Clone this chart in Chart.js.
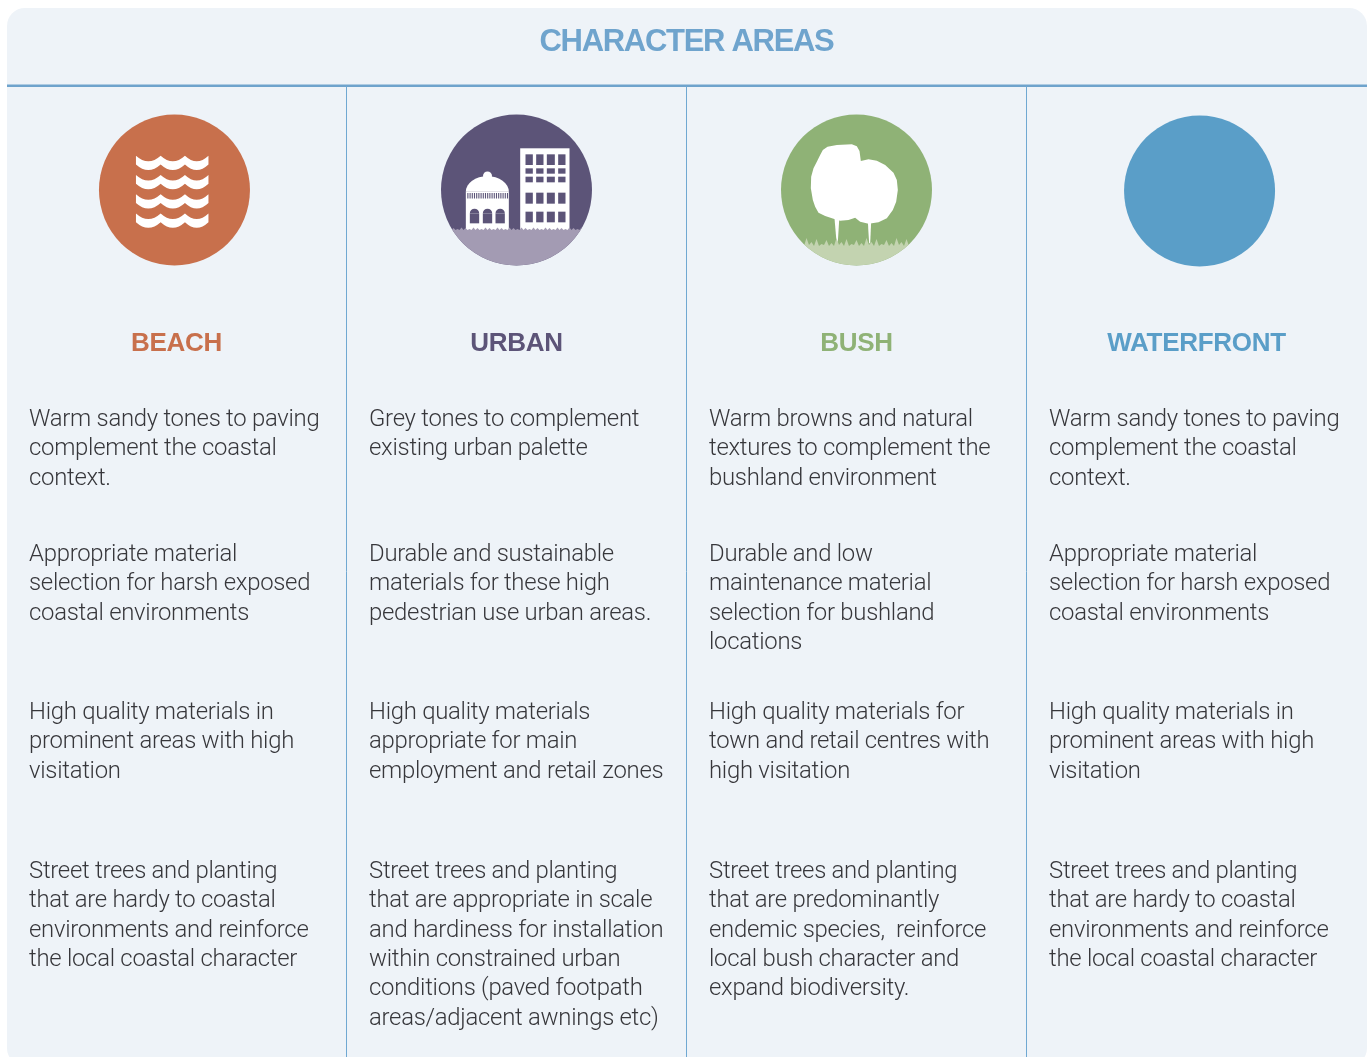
<!DOCTYPE html>
<html><head><meta charset="utf-8">
<style>html,body{margin:0;padding:0;background:#fff}canvas{display:block}</style>
<script src="https://cdn.jsdelivr.net/npm/chart.js@4"></script>
</head><body><canvas id="c" width="1370" height="1057"></canvas>
<script>
const title = "CHARACTER AREAS";
const categories = ["BEACH","URBAN","BUSH","WATERFRONT"];
const categoryColors = ["#c8704c","#5c5478","#8fb276","#5a9ec8"];
const iconX = [0.494,1.5,2.5,3.509];
const iconY = [190,190,190,191];
const beachText = [
 ["Warm sandy tones to paving","complement the coastal","context."],
 ["Appropriate material","selection for harsh exposed","coastal environments"],
 ["High quality materials in","prominent areas with high","visitation"],
 ["Street trees and planting","that are hardy to coastal","environments and reinforce","the local coastal character"]];
const urbanText = [
 ["Grey tones to complement","existing urban palette"],
 ["Durable and sustainable","materials for these high","pedestrian use urban areas."],
 ["High quality materials","appropriate for main","employment and retail zones"],
 ["Street trees and planting","that are appropriate in scale","and hardiness for installation","within constrained urban","conditions (paved footpath","areas/adjacent awnings etc)"]];
const bushText = [
 ["Warm browns and natural","textures to complement the","bushland environment"],
 ["Durable and low","maintenance material","selection for bushland","locations"],
 ["High quality materials for","town and retail centres with","high visitation"],
 ["Street trees and planting","that are predominantly","endemic species,  reinforce","local bush character and","expand biodiversity."]];
const waterfrontText = [
 ["Warm sandy tones to paving","complement the coastal","context."],
 ["Appropriate material","selection for harsh exposed","coastal environments"],
 ["High quality materials in","prominent areas with high","visitation"],
 ["Street trees and planting","that are hardy to coastal","environments and reinforce","the local coastal character"]];
const columnText = [beachText,urbanText,bushText,waterfrontText];
const rowBaselines = [426,561,719,878];

const COL=340, LEFT=6.5, TOP=86, LH=29.3;
const BODY='300 23.9px Roboto, "Liberation Sans", sans-serif';
const HEAD='bold 26px "Liberation Sans", sans-serif';

function poly(ctx,cx,cy,pts,fill){
  ctx.beginPath();
  pts.forEach((p,i)=>{const x=cx+p[0]/3,y=cy+p[1]/3; i?ctx.lineTo(x,y):ctx.moveTo(x,y);});
  ctx.closePath(); ctx.fillStyle=fill; ctx.fill();
}
function drawWaves(ctx,cx,cy){
  ctx.fillStyle="#fff";
  const xs=[-38.5,-13.8,10.5,34];
  for(let r=0;r<4;r++){
    const top=cy-34.3+r*19.3, th=8.7;
    ctx.beginPath(); ctx.moveTo(cx+xs[0],top);
    for(let i=0;i<3;i++) ctx.quadraticCurveTo(cx+(xs[i]+xs[i+1])/2,top+11,cx+xs[i+1],top);
    ctx.lineTo(cx+xs[3],top+th);
    for(let i=3;i>0;i--) ctx.quadraticCurveTo(cx+(xs[i]+xs[i-1])/2,top+th+11,cx+xs[i-1],top+th);
    ctx.closePath(); ctx.fill();
  }
}
function ground(ctx,cx,cy,r,yTop,fill,spikes){
  ctx.save(); ctx.beginPath(); ctx.arc(cx,cy,r,0,Math.PI*2); ctx.clip();
  ctx.beginPath(); ctx.moveTo(cx-r,cy+r); ctx.lineTo(cx-r,cy+yTop);
  spikes.forEach(s=>ctx.lineTo(cx+s[0],cy+yTop+s[1]));
  ctx.lineTo(cx+r,cy+yTop); ctx.lineTo(cx+r,cy+r); ctx.closePath();
  ctx.fillStyle=fill; ctx.fill(); ctx.restore();
}
function jag(start,end,step,heights){const a=[];let i=0;for(let x=start;x<end;x+=step){a.push([x,-heights[i%heights.length]]);i++;}return a;}
function drawUrban(ctx,cx,cy,r){
  const P="#5c5478", G="#a39bb3";
  ctx.fillStyle="#fff";
  ctx.fillRect(cx+3.7,cy-41.7,49.3,82);
  ctx.fillStyle=P;
  [[27,49],[59,81],[91,115],[125,147]].forEach(c=>{
    [[-107,-75],[-65,-49],[-40,-23],[8,41],[65,97]].forEach(w=>{
      ctx.fillRect(cx+c[0]/3,cy+w[0]/3,(c[1]-c[0])/3,(w[1]-w[0])/3);
    });
  });
  ctx.fillStyle="#fff";
  const dx=cx+(107-259)/3, dw=129/3, dy=cy+(260-255)/3;
  ctx.fillRect(dx,dy,dw,(375-260)/3);
  ctx.beginPath(); ctx.ellipse(dx+dw/2,dy,dw/2,15.5,0,Math.PI,0); ctx.fill();
  ctx.beginPath(); ctx.arc(cx+(172-259)/3,cy+(213-255)/3,4.5,0,Math.PI*2); ctx.fill();
  ctx.fillStyle=P;
  for(let x=dx+1.5;x<dx+dw-1.5;x+=2.2) ctx.fillRect(x,cy+(264-255)/3,1.1,5.5);
  [119,158,196].forEach(x=>{
    const ax=cx+(x-259)/3;
    ctx.fillRect(ax,cy+(325-255)/3,28/3,(355-325)/3);
    ctx.beginPath(); ctx.arc(ax+14/3,cy+(325-255)/3,14/3,Math.PI,0); ctx.fill();
  });
  ground(ctx,cx,cy,r,40,G,jag(-75,76,2,[2,0,1,0,2.5,0]));
}
function drawBush(ctx,cx,cy,r){
  const outline=[[150,150],[158,135],[172,125],[200,120],[245,118],[260,124],[268,138],[272,168],[295,163],[320,167],[345,180],[370,203],[380,225],[383,255],[378,290],[368,315],[350,340],[325,352],[295,356],[270,350],[255,338],[235,345],[210,347],[190,341],[165,333],[145,323],[135,305],[128,285],[122,250],[123,215],[130,190],[140,170]];
  poly(ctx,cx,cy,outline.map(p=>[p[0]-259,p[1]-255]),"#fff");
  poly(ctx,cx,cy,[[-66,85],[-60,155],[-56,155],[-52,90]],"#fff");
  poly(ctx,cx,cy,[[34,95],[38,160],[41,160],[44,95]],"#fff");
  ground(ctx,cx,cy,r,56,"#c3d3b0",jag(-60,61,2.5,[6,0,3,0,8,1,4,0,7,0,2,1]));
}
const bgPlugin={id:"panel",
  beforeDraw(c){
    const x=c.ctx; x.save();
    x.fillStyle="#eef3f8"; x.beginPath(); x.roundRect(7,8,1360,1058,18); x.fill();
    x.fillStyle="#6ea3cc"; x.fillRect(7,84.5,1360,2.5);
    x.fillStyle="#6fa4cd"; x.font='bold 31px "Liberation Sans", sans-serif';
    x.letterSpacing="-1.3px";
    x.textAlign="center"; x.textBaseline="alphabetic";
    x.fillText(title,686.5,51);
    x.letterSpacing="0px";
    x.restore();
  },
  afterDraw(c){
    const x=c.ctx, sx=c.scales.x, sy=c.scales.y; x.save();
    const pts=c.getDatasetMeta(0).data;
    drawWaves(x,pts[0].x,pts[0].y);
    drawUrban(x,pts[1].x,pts[1].y,75.5);
    drawBush(x,pts[2].x,pts[2].y,75.5);
    x.textBaseline="alphabetic";
    categories.forEach((name,i)=>{
      x.textAlign="center"; x.font=HEAD; x.fillStyle=categoryColors[i]; x.letterSpacing="-0.3px";
      x.fillText(name,sx.getPixelForValue(i+0.5),sy.getPixelForValue(351));
      x.textAlign="left"; x.font=BODY; x.fillStyle="#37373b"; x.letterSpacing="-0.27px";
      columnText[i].forEach((lines,row)=>{
        lines.forEach((t,k)=>x.fillText(t,sx.getPixelForValue(i)+22.5,sy.getPixelForValue(rowBaselines[row])+k*LH));
      });
      x.letterSpacing="0px";
    });
    x.restore();
  }
};
new Chart(document.getElementById("c"),{
  type:"bubble",
  data:{datasets:[{label:"Character areas",
    data:categories.map((n,i)=>({x:iconX[i],y:iconY[i],r:75.5})),
    backgroundColor:categoryColors,borderWidth:0,hoverRadius:0,clip:false}]},
  plugins:[bgPlugin],
  options:{responsive:false,animation:false,events:[],
    layout:{autoPadding:false,padding:{top:TOP,left:0,right:0,bottom:0}},
    plugins:{legend:{display:false},tooltip:{enabled:false}},
    scales:{
      x:{type:"linear",min:-LEFT/COL,max:(1370-LEFT)/COL,
        afterBuildTicks:s=>{s.ticks=[1,2,3].map(value=>({value}));},
        ticks:{display:false},border:{display:false},
        grid:{color:"#6fa8d2",lineWidth:1,drawTicks:false}},
      y:{type:"linear",min:TOP,max:1057,reverse:true,display:false}
    }
  }
});
</script></body></html>
